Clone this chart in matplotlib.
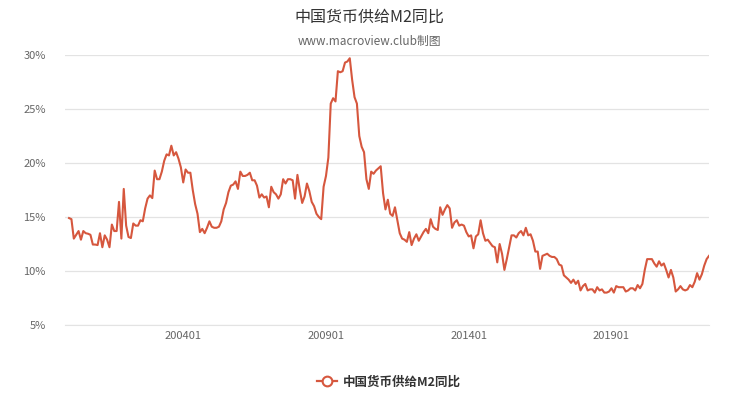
import matplotlib
matplotlib.use("Agg")
import matplotlib.pyplot as plt
from matplotlib.lines import Line2D
import numpy as np

plt.rcParams['font.family'] = ['Noto Sans CJK SC', 'DejaVu Sans']

# M2 同比 (%), monthly, 200001 - 202206
m2_2000 = [14.9, 14.8, 13.0, 13.35, 13.7, 12.9, 13.7, 13.5, 13.45, 13.35, 12.45, 12.45]
m2_2001 = [12.4, 13.5, 12.2, 13.3, 12.9, 12.2, 14.3, 13.7, 13.7, 16.4, 13.0, 17.6]
m2_2002 = [14.2, 13.15, 13.05, 14.4, 14.2, 14.2, 14.7, 14.6, 15.8, 16.7, 17.0, 16.75]
m2_2003 = [19.3, 18.5, 18.5, 19.2, 20.2, 20.8, 20.7, 21.6, 20.7, 21.0, 20.4, 19.6]
m2_2004 = [18.2, 19.4, 19.1, 19.1, 17.5, 16.2, 15.3, 13.6, 13.9, 13.5, 14.0, 14.6]
m2_2005 = [14.1, 14.0, 14.0, 14.1, 14.6, 15.7, 16.3, 17.3, 17.9, 18.0, 18.3, 17.6]
m2_2006 = [19.2, 18.8, 18.8, 18.9, 19.1, 18.4, 18.4, 17.9, 16.8, 17.1, 16.8, 16.9]
m2_2007 = [15.9, 17.8, 17.3, 17.1, 16.7, 17.1, 18.5, 18.1, 18.5, 18.5, 18.4, 16.7]
m2_2008 = [18.9, 17.5, 16.3, 16.9, 18.1, 17.4, 16.4, 16.0, 15.3, 15.0, 14.8, 17.8]
m2_2009 = [18.8, 20.5, 25.5, 26.0, 25.7, 28.5, 28.4, 28.5, 29.3, 29.4, 29.7, 27.7]
m2_2010 = [26.1, 25.5, 22.5, 21.5, 21.0, 18.5, 17.6, 19.2, 19.0, 19.3, 19.5, 19.7]
m2_2011 = [17.2, 15.7, 16.6, 15.3, 15.1, 15.9, 14.7, 13.5, 13.0, 12.9, 12.7, 13.6]
m2_2012 = [12.4, 13.0, 13.4, 12.8, 13.2, 13.6, 13.9, 13.5, 14.8, 14.1, 13.9, 13.8]
m2_2013 = [15.9, 15.2, 15.7, 16.1, 15.8, 14.0, 14.5, 14.7, 14.2, 14.3, 14.2, 13.6]
m2_2014 = [13.2, 13.3, 12.1, 13.2, 13.4, 14.7, 13.5, 12.8, 12.9, 12.6, 12.3, 12.2]
m2_2015 = [10.8, 12.5, 11.6, 10.1, 11.1, 12.2, 13.3, 13.3, 13.1, 13.5, 13.7, 13.3]
m2_2016 = [14.0, 13.3, 13.4, 12.8, 11.8, 11.8, 10.2, 11.4, 11.5, 11.6, 11.4, 11.3]
m2_2017 = [11.3, 11.1, 10.6, 10.5, 9.6, 9.4, 9.2, 8.9, 9.2, 8.8, 9.1, 8.2]
m2_2018 = [8.6, 8.8, 8.2, 8.3, 8.3, 8.0, 8.5, 8.2, 8.3, 8.0, 8.0, 8.1]
m2_2019 = [8.4, 8.0, 8.6, 8.5, 8.5, 8.5, 8.1, 8.2, 8.4, 8.4, 8.2, 8.7]
m2_2020 = [8.4, 8.8, 10.1, 11.1, 11.1, 11.1, 10.7, 10.4, 10.9, 10.5, 10.7, 10.1]
m2_2021 = [9.4, 10.1, 9.4, 8.1, 8.3, 8.6, 8.3, 8.2, 8.3, 8.7, 8.5, 9.0]
m2_2022 = [9.8, 9.2, 9.7, 10.5, 11.1, 11.4]

m2 = (m2_2000 + m2_2001 + m2_2002 + m2_2003 + m2_2004 + m2_2005 + m2_2006
      + m2_2007 + m2_2008 + m2_2009 + m2_2010 + m2_2011 + m2_2012 + m2_2013
      + m2_2014 + m2_2015 + m2_2016 + m2_2017 + m2_2018 + m2_2019 + m2_2020
      + m2_2021 + m2_2022)

tick_labels = ['200401', '200901', '201401', '201901']
tick_pos = [48, 108, 168, 228]

y_ticks = [5, 10, 15, 20, 25, 30]

line_color = '#d6573e'
label_color = '#666666'

fig = plt.figure(figsize=(7.38, 3.96), dpi=100)
ax = fig.add_axes([65 / 738, 1 - 325 / 396, 644 / 738, 270 / 396])

x = np.arange(len(m2))
ax.plot(x, m2, color=line_color, lw=1.5, solid_joinstyle='round')

ax.set_xlim(-1.7, len(m2) - 1)
ax.set_ylim(5, 30)
ax.set_yticks(y_ticks)
ax.set_yticklabels(['%d%%' % v for v in y_ticks])
ax.set_xticks(tick_pos)
ax.set_xticklabels(tick_labels)
ax.grid(axis='y', color='#e3e3e3', lw=0.9)
ax.set_axisbelow(True)
for s in ['top', 'right', 'left']:
    ax.spines[s].set_visible(False)
ax.spines['bottom'].set_color('#e3e3e3')
ax.tick_params(axis='y', length=0, pad=14, labelsize=8, labelcolor=label_color)
ax.tick_params(axis='x', length=0, pad=4, labelsize=8, labelcolor=label_color)

fig.text(0.5, 1 - 17 / 396, '中国货币供给M2同比', ha='center', va='center',
         fontsize=11.5, color='#333333')
fig.text(0.5, 1 - 42 / 396, 'www.macroview.club制图', ha='center', va='center',
         fontsize=8.5, color='#666666')

handle = Line2D([], [], color=line_color, lw=1.6, marker='o', markersize=7,
                markerfacecolor='white', markeredgewidth=1.5)
fig.legend([handle], ['中国货币供给M2同比'], loc='center',
           bbox_to_anchor=(0.527, 1 - 382 / 396), frameon=False,
           handlelength=1.6, handletextpad=0.5,
           prop={'size': 9, 'weight': 'bold'}, labelcolor='#333333')

fig.savefig('out.png', dpi=100)
